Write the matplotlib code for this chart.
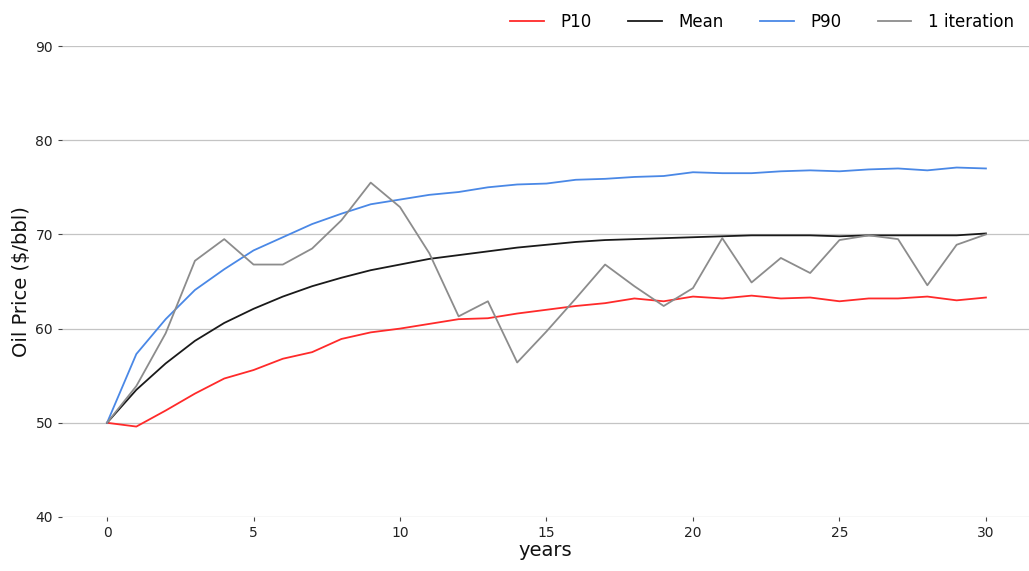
import numpy as np
import matplotlib.pyplot as plt

# simulated oil price paths
years = np.arange(0, 31)

p10 = [50.0, 49.6, 51.3, 53.1, 54.7, 55.6, 56.8, 57.5, 58.9, 59.6, 60.0,
       60.5, 61.0, 61.1, 61.6, 62.0, 62.4, 62.7, 63.2, 62.9, 63.4,
       63.2, 63.5, 63.2, 63.3, 62.9, 63.2, 63.2, 63.4, 63.0, 63.3]
mean = [50.0, 53.5, 56.3, 58.7, 60.6, 62.1, 63.4, 64.5, 65.4, 66.2, 66.8,
        67.4, 67.8, 68.2, 68.6, 68.9, 69.2, 69.4, 69.5, 69.6, 69.7,
        69.8, 69.9, 69.9, 69.9, 69.8, 69.9, 69.9, 69.9, 69.9, 70.1]
p90 = [50.0, 57.3, 61.0, 64.1, 66.3, 68.3, 69.7, 71.1, 72.2, 73.2, 73.7,
       74.2, 74.5, 75.0, 75.3, 75.4, 75.8, 75.9, 76.1, 76.2, 76.6,
       76.5, 76.5, 76.7, 76.8, 76.7, 76.9, 77.0, 76.8, 77.1, 77.0]
one_iter = [50.0, 53.9, 59.5, 67.2, 69.5, 66.8, 66.8, 68.5, 71.5, 75.5, 72.9,
            68.0, 61.3, 62.9, 56.4, 59.7, 63.2, 66.8, 64.5, 62.4, 64.3,
            69.6, 64.9, 67.5, 65.9, 69.4, 69.9, 69.5, 64.6, 68.9, 70.0]

fig = plt.figure(figsize=(10.29, 5.71), dpi=100)
ax = fig.add_axes([0.0603, 0.0946, 0.9397, 0.8248])

ax.plot(years, p10, color='#ff2a2a', lw=1.3, label='P10')
ax.plot(years, mean, color='#1a1a1a', lw=1.3, label='Mean')
ax.plot(years, p90, color='#4a88e6', lw=1.3, label='P90')
ax.plot(years, one_iter, color='#8c8c8c', lw=1.3, label='1 iteration')

ax.set_ylim(40, 90)
ax.set_xlim(-1.536, 31.47)
ax.set_xticks([0, 5, 10, 15, 20, 25, 30])
ax.set_yticks([40, 50, 60, 70, 80, 90])

ax.grid(axis='y', color='#c4c4c4', lw=0.9)
ax.set_axisbelow(True)
for s in ax.spines.values():
    s.set_visible(False)
ax.tick_params(colors='#444444', labelcolor='#222222', labelsize=10, length=3, width=0.8)

ax.set_xlabel('years', fontsize=14, color='#111111', labelpad=1)
ax.set_ylabel('Oil Price ($/bbl)', fontsize=14, color='#111111', labelpad=3)

ax.legend(ncol=4, frameon=False, fontsize=12, loc='lower right',
          bbox_to_anchor=(1.0, 1.0), borderaxespad=0.5,
          handlelength=2.0, handletextpad=1.0, columnspacing=2.2)

plt.savefig('out.png', dpi=100)
